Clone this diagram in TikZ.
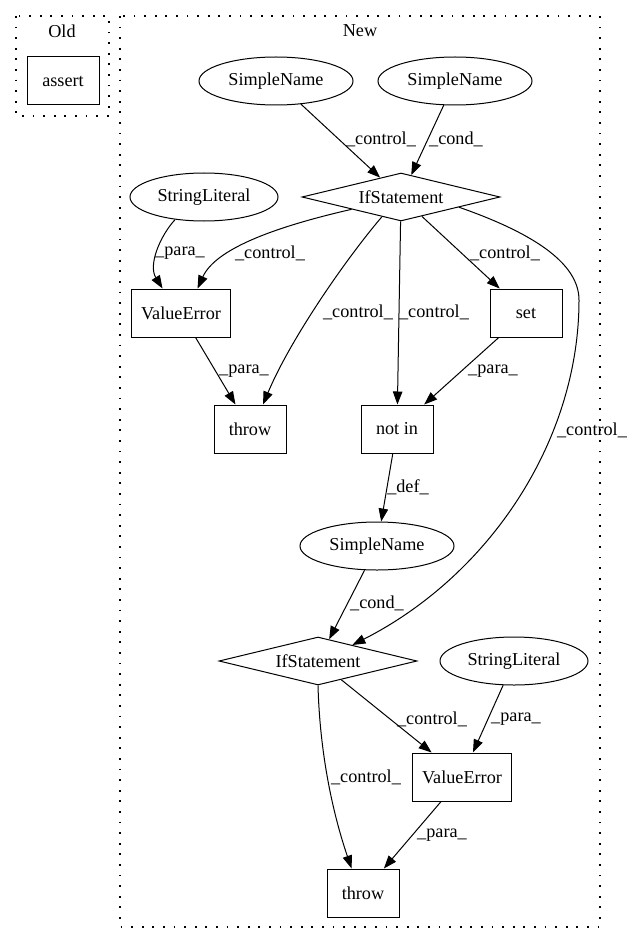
\documentclass[tikz,border=0pt]{standalone}
\usepackage{fontspec}
\setmainfont{Liberation Serif}
\usepackage{tikz}
\usetikzlibrary{arrows.meta}
\usetikzlibrary{shapes}
\usetikzlibrary{calc}

\begin{document}
\begin{tikzpicture}[x=1pt, y=-1pt, line width=1pt,
    font=\fontsize{18.2}{22}\selectfont,
    box/.style={draw, rectangle, minimum width=72pt, minimum height=48pt, inner xsep=10pt},
    oval/.style={draw, ellipse, minimum height=48pt, inner sep=0pt},
    cond/.style={draw, diamond, aspect=4, inner sep=0pt, minimum width=198pt, minimum height=48pt},
    edge/.style={-{Triangle[length=13pt, width=9.5pt]}},
    lbl/.style={inner sep=0pt},
    cluster/.style={line width=1.4pt, dash pattern=on 1.8pt off 8.8pt}]

      \useasboundingbox (0,0) rectangle (632,944);

      % clusters
      \draw[cluster] (16,16) rectangle (109,116);
      \node (old) at (62,31) {Old};
      \draw[cluster] (120,16) rectangle (600,927);
      \node (new) at (360,31) {New};

      \node[box] (assert) at (63,81) {assert};

      \node[oval, minimum width=154pt] (sn1) at (276,81) {SimpleName};
      \node[oval, minimum width=154pt] (sn2) at (455,81) {SimpleName};
      \node[cond] (if1) at (401,197) {IfStatement};
      \node[oval, minimum width=148pt] (sl1) at (204,197) {StringLiteral};
      \node[box] (ve1) at (181,313) {ValueError};
      \node[box] (set) at (526,313) {set};
      \node[box] (throw1) at (250,429) {throw};
      \node[box] (notin) at (397,429) {not in};
      \node[oval, minimum width=154pt] (sn3) at (377,546) {SimpleName};
      \node[cond] (if2) at (318,661) {IfStatement};
      \node[oval, minimum width=148pt] (sl2) at (514,661) {StringLiteral};
      \node[box] (ve2) at (462,777) {ValueError};
      \node[box] (throw2) at (363,893) {throw};

      \draw[edge] (sn1) -- (if1);
      \draw[edge] (sn2) -- (if1);
      \draw[edge] (sl1.218) .. controls (160,236) and (148,265) .. (ve1.127);
      \draw[edge] (if1.194) .. controls (270,228) and (215,250) .. (ve1.56);
      \draw[edge] (if1.226) .. controls (345,260) and (290,340) .. (throw1.62);
      \draw[edge] (if1) -- (notin);
      \draw[edge] (if1) -- (set);
      \draw[edge] (if1.350) .. controls (530,232) and (579,262) .. (579,300)
                  .. controls (579,440) and (490,575) .. (if2.25);
      \draw[edge] (ve1) -- (throw1);
      \draw[edge] (set) -- (notin);
      \draw[edge] (notin) -- (sn3);
      \draw[edge] (sn3) -- (if2);
      \draw[edge] (if2) -- (ve2);
      \draw[edge] (sl2) -- (ve2);
      \draw[edge] (if2.south) .. controls (320,760) and (335,820) .. (throw2.115);
      \draw[edge] (ve2) -- (throw2);

      \foreach \x/\y/\t in {381/139/control, 456/139/cond, 180/253/para, 270/253/control,
                            505/253/control, 358/312/control, 434/312/control, 244/371/para,
                            493/371/para, 408/487/def, 592/430/control, 377/603/cond,
                            432/719/control, 516/719/para, 366/777/control, 442/835/para}{
        \node[lbl] (lab-\x-\y) at (\x,\y) {\_\t\_};
      }

\end{tikzpicture}
\end{document}
